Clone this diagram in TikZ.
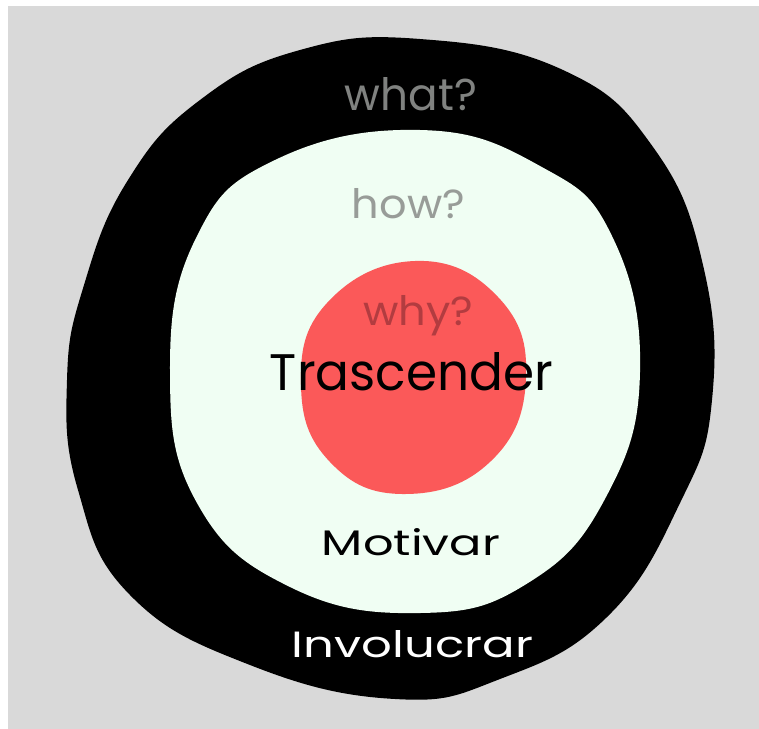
\documentclass[tikz,border=0pt]{standalone}
\usepackage{fontspec}
\setmainfont{Poppins}
\usepackage{graphicx}
\definecolor{bggray}{RGB}{217,217,217}
\definecolor{mint}{RGB}{240,254,243}
\definecolor{redfill}{RGB}{251,89,89}
\definecolor{whatgray}{RGB}{128,130,128}
\definecolor{howgray}{RGB}{152,156,152}
\definecolor{whyred}{RGB}{178,60,64}
\tikzset{
  lbl/.style={anchor=base, inner sep=0pt, outer sep=0pt},
  blob/.style={smooth cycle, tension=0.75},
}
\newcommand{\fitbox}[3]{\resizebox{#1pt}{#2pt}{#3}}
\begin{document}
\begin{tikzpicture}[x=1pt,y=-1pt]
\useasboundingbox (0,0) rectangle (759,728);
\fill[white] (0,0) rectangle (759,728);
\fill[bggray] (8,6) rectangle (760,729);
% outer black ring
\fill[black] plot[blob] coordinates {
 (420,39) (563,70) (653,147) (703,265) (712,400) (680,503) (607,617)
 (500,679) (395,699) (250,665) (130,595) (78,490) (67,380) (84,285)
 (128,180) (200,100) (300,50)};
% mint middle
\fill[mint] plot[blob] coordinates {
 (420,130) (540,166) (612,236) (640,372) (606,497) (528,583)
 (420,613) (290,587) (197,503) (170,372) (196,238) (275,160)};
% red centre
\fill[redfill] plot[blob] coordinates {
 (415,261) (498,297) (526,378) (491,461) (405,494) (330,462)
 (301,385) (327,303)};
% labels
\node[lbl, text=whatgray] (what) at (411,110) {\fitbox{132}{33}{what?}};
\node[lbl, text=howgray] (how) at (408.5,218) {\fitbox{113}{30}{how?}};
\node[lbl, text=whyred] (why) at (418,325) {\fitbox{110}{30}{why?}};
\node[lbl, text=black] (tras) at (411.5,390) {\fitbox{283}{38}{Trascender}};
\node[lbl, text=black] (moti) at (411,555) {\fitbox{178}{27}{Motivar}};
\node[lbl, text=white] (invo) at (412.5,657) {\fitbox{241}{27}{Involucrar}};
\end{tikzpicture}
\end{document}
